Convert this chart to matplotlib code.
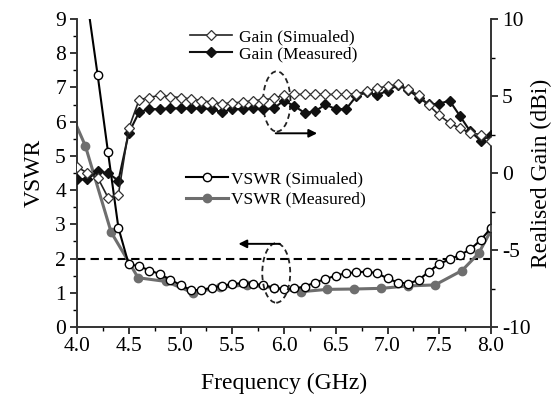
import numpy as np
import matplotlib
matplotlib.use("Agg")
import matplotlib.pyplot as plt
from matplotlib.patches import Ellipse
from matplotlib.ticker import MultipleLocator

plt.rcParams['font.family'] = ['Liberation Serif', 'DejaVu Serif']
plt.rcParams['axes.unicode_minus'] = False

# ---------------- data ----------------
freq = [4.0, 4.1, 4.2, 4.3, 4.4, 4.5, 4.6, 4.7, 4.8, 4.9,
        5.0, 5.1, 5.2, 5.3, 5.4, 5.5, 5.6, 5.7, 5.8, 5.9,
        6.0, 6.1, 6.2, 6.3, 6.4, 6.5, 6.6, 6.7, 6.8, 6.9,
        7.0, 7.1, 7.2, 7.3, 7.4, 7.5, 7.6, 7.7, 7.8, 7.9, 8.0]

gain_sim = [0.4, 0.0, -0.3, -1.6, -1.4, 2.9, 4.75, 4.9, 5.05, 4.95,
            4.9, 4.8, 4.7, 4.6, 4.5, 4.55, 4.6, 4.7, 4.75, 4.85,
            5.05, 5.1, 5.1, 5.1, 5.1, 5.1, 5.1, 5.15, 5.3, 5.5,
            5.65, 5.75, 5.45, 5.05, 4.4, 3.75, 3.25, 2.9, 2.6, 2.5, 2.1]

gain_meas = [-0.4, -0.4, 0.1, 0.0, -0.5, 2.6, 3.95, 4.15, 4.15, 4.2,
             4.2, 4.2, 4.2, 4.15, 3.95, 4.15, 4.15, 4.2, 4.15, 4.2,
             4.7, 4.35, 3.9, 4.0, 4.45, 4.15, 4.15, 5.0, 5.25, 5.05,
             5.35, 5.7, 5.4, 4.9, 4.45, 4.5, 4.7, 3.7, 2.7, 2.1, 2.45]

vswr_sim = [11.6, 9.5, 7.35, 5.1, 2.9, 1.83, 1.78, 1.65, 1.55, 1.38,
            1.23, 1.08, 1.08, 1.15, 1.2, 1.26, 1.28, 1.27, 1.22, 1.15,
            1.1, 1.13, 1.18, 1.3, 1.4, 1.5, 1.57, 1.6, 1.62, 1.57,
            1.42, 1.3, 1.27, 1.37, 1.62, 1.84, 1.98, 2.1, 2.27, 2.54, 2.89]

freq_meas = [4.0, 4.08, 4.33, 4.59, 4.86, 5.12, 5.38, 5.64, 5.9, 6.16,
             6.42, 6.68, 6.94, 7.2, 7.46, 7.72, 7.88, 8.0]
vswr_meas = [5.85, 5.3, 2.77, 1.44, 1.33, 1.0, 1.16, 1.23, 1.15, 1.03,
             1.1, 1.11, 1.13, 1.2, 1.23, 1.65, 2.15, 2.82]

vswr_ref = 2.0

# ---------------- figure ----------------
W, H = 555, 401
fig = plt.figure(figsize=(W / 100, H / 100), dpi=100)
ax = fig.add_axes([77 / W, 1 - 327 / H, (491 - 77) / W, (327 - 19) / H])
ax2 = ax.twinx()

# VSWR
l_vs, = ax.plot(freq, vswr_sim, '-', color='black', lw=1.5, marker='o',
                ms=6, mfc='white', mec='black', mew=1.0, zorder=4,
                label='VSWR (Simualed)')
l_vm, = ax.plot(freq_meas, vswr_meas, '-', color='#6e6e6e', lw=2.2, marker='o',
                ms=6, mfc='#6e6e6e', mec='#6e6e6e', zorder=3,
                markevery=list(range(1, len(freq_meas))),
                label='VSWR (Measured)')
ax.axhline(vswr_ref, color='black', lw=1.5, ls=(0, (4, 2.5)), zorder=2)

# Gain
l_gs, = ax2.plot(freq, gain_sim, '-', color='#222222', lw=1.2, marker='D',
                 ms=5, mfc='white', mec='#333333', mew=0.9, zorder=4,
                 label='Gain (Simualed)')
l_gm, = ax2.plot(freq, gain_meas, '-', color='#111111', lw=1.5, marker='D',
                 ms=5, mfc='#111111', mec='#111111', zorder=3,
                 label='Gain (Measured)')

# axes limits / ticks
ax.set_xlim(4.0, 8.0)
ax.set_ylim(0, 9)
ax2.set_ylim(-10, 10)
ax.xaxis.set_major_locator(MultipleLocator(0.5))
ax.xaxis.set_minor_locator(MultipleLocator(0.25))
ax.yaxis.set_major_locator(MultipleLocator(1))
ax.yaxis.set_minor_locator(MultipleLocator(0.5))
ax2.yaxis.set_major_locator(MultipleLocator(5))
ax2.yaxis.set_minor_locator(MultipleLocator(2.5))
ax.xaxis.set_major_formatter(matplotlib.ticker.FormatStrFormatter('%.1f'))

for a in (ax, ax2):
    a.spines['top'].set_visible(False)
    for s in a.spines.values():
        s.set_linewidth(1.2)
        s.set_color('#333333')
ax.tick_params(which='major', direction='out', length=5, width=1.1, labelsize=15.5, pad=2)
ax.tick_params(which='minor', direction='out', length=3, width=1.0)
ax.tick_params(axis='y', which='major', pad=3)
ax2.tick_params(which='major', direction='out', length=5, width=1.1, labelsize=15.5, pad=3)
ax2.tick_params(which='minor', direction='out', length=3, width=1.0)

ax.set_xlabel('Frequency (GHz)', fontsize=17)
ax.set_ylabel('VSWR', fontsize=17)
ax2.set_ylabel('Realised Gain (dBi)', fontsize=17)
ax.yaxis.set_label_coords(-0.078, 0.5)
ax2.yaxis.set_label_coords(1.097, 0.5)
ax.xaxis.set_label_coords(0.5, -0.15)

# annotations: ellipses and arrows (in VSWR data coords)
ax.add_patch(Ellipse((5.93, 6.59), 0.265, 1.76, fill=False, ls=(0, (3, 2)),
                     lw=1.3, color='#222222', zorder=6))
ax.add_patch(Ellipse((5.925, 1.58), 0.27, 1.74, fill=False, ls=(0, (3, 2)),
                     lw=1.3, color='#222222', zorder=6))
ax.annotate('', xy=(6.32, 5.66), xytext=(5.92, 5.66),
            arrowprops=dict(arrowstyle='-|>', color='black', lw=1.4,
                            mutation_scale=12, shrinkA=0, shrinkB=0), zorder=6)
ax.annotate('', xy=(5.56, 2.43), xytext=(5.96, 2.43),
            arrowprops=dict(arrowstyle='-|>', color='black', lw=1.4,
                            mutation_scale=12, shrinkA=0, shrinkB=0), zorder=6)

# legends
leg1 = ax2.legend(handles=[l_gs, l_gm], loc='upper left',
                  bbox_to_anchor=(190 / W, 1 - 29 / H), bbox_transform=fig.transFigure,
                  frameon=False, fontsize=12.5, borderpad=0, borderaxespad=0,
                  handlelength=2.4, handletextpad=0.4, labelspacing=0.05)
leg2 = ax2.legend(handles=[l_vs, l_vm], loc='upper left',
                  bbox_to_anchor=(186 / W, 1 - 171 / H), bbox_transform=fig.transFigure,
                  frameon=False, fontsize=12.5, borderpad=0, borderaxespad=0,
                  handlelength=2.4, handletextpad=0.2, labelspacing=0.25)
ax2.add_artist(leg1)

fig.savefig('out.png', dpi=100)
